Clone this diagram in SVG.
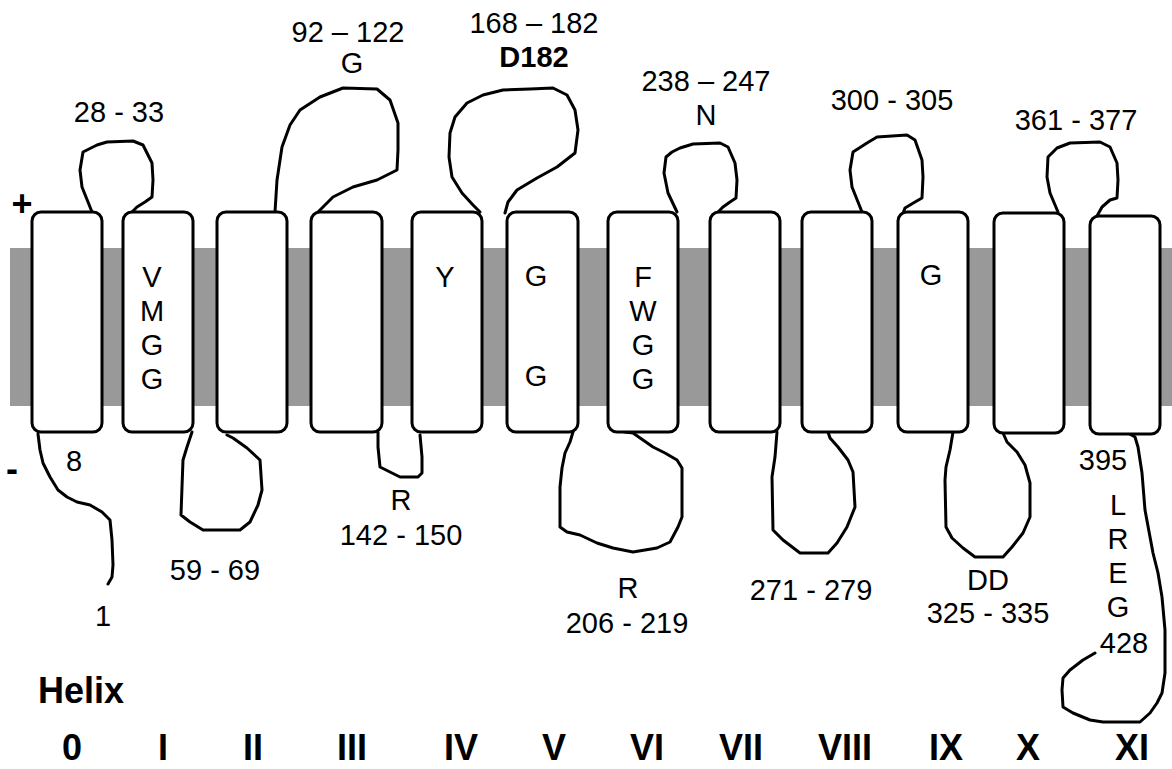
<svg xmlns="http://www.w3.org/2000/svg" width="1172" height="769" viewBox="0 0 1172 769">
<style>
.helix{fill:#fff;stroke:#000;stroke-width:3}
.loop{fill:none;stroke:#000;stroke-width:3;stroke-linejoin:round;stroke-linecap:round}
text{font-family:"Liberation Sans",Arial,sans-serif;fill:#000}
.t{font-size:29px;text-anchor:middle}
.b{font-size:29px;font-weight:bold;text-anchor:middle}
.n{font-size:36px;font-weight:bold;text-anchor:middle}
</style>
<rect id="membrane" x="10" y="248" width="1162" height="158" fill="#999999"/>
<g id="connectors">
<path class="loop" d="M38,434 L40,450 L43,463 L50,477 L58,490 L67,497 L77,502 L90,505 L102,512 L110,520 L112,540 L113,565 L112,577 L108,584"/>
<path class="loop" d="M92,212 L82,187 L80,170 L83,152 L97,145 L107,142 L133,141 L143,145 L152,163 L153,180 L152,197 L145,202 L137,207 L132,212"/>
<path class="loop" d="M192,432 L187,447 L183,460 L182,487 L181,515 L190,522 L203,530 L240,530 L250,522 L258,505 L262,490 L260,460 L247,448 L233,438 L227,435"/>
<path class="loop" d="M275,212 L277,180 L282,147 L290,125 L300,110 L320,97 L343,88 L377,89 L390,100 L398,123 L398,150 L397,170 L377,180 L353,187 L333,197 L323,207 L318,212"/>
<path class="loop" d="M378,432 L378,447 L380,467 L388,471 L400,477 L418,477 L422,473 L422,457 L420,435"/>
<path class="loop" d="M480,212 L473,205 L462,193 L452,177 L449,157 L450,133 L455,117 L467,103 L483,95 L503,90 L530,89 L553,88 L567,95 L575,110 L578,130 L575,153 L557,167 L537,178 L517,190 L508,202 L505,213"/>
<path class="loop" d="M573,432 L570,442 L565,453 L562,468 L560,487 L560,527 L567,532 L580,535 L597,543 L613,548 L633,552 L657,548 L670,542 L678,527 L682,517 L682,468 L677,460 L665,453 L653,447 L643,440 L633,433 L625,432 L610,427"/>
<path class="loop" d="M677,212 L668,193 L664,173 L666,157 L672,152 L680,148 L693,144 L720,143 L728,147 L735,163 L737,180 L736,198 L730,202 L723,207 L718,212"/>
<path class="loop" d="M777,432 L775,457 L772,477 L773,530 L783,540 L800,553 L828,553 L837,543 L847,527 L855,507 L853,472 L848,460 L838,447 L830,438 L828,432"/>
<path class="loop" d="M862,212 L852,187 L850,170 L853,152 L867,143 L877,137 L907,135 L915,140 L922,160 L923,177 L922,198 L915,202 L905,208 L902,216"/>
<path class="loop" d="M953,432 L950,450 L946,467 L945,480 L946,527 L952,538 L963,548 L975,557 L1003,557 L1012,547 L1023,533 L1030,517 L1030,483 L1025,465 L1017,452 L1007,442 L1003,433 L997,430"/>
<path class="loop" d="M1058,212 L1050,193 L1047,177 L1048,157 L1057,148 L1070,143 L1100,142 L1110,147 L1117,163 L1118,180 L1117,198 L1110,200 L1102,207 L1097,216"/>
<path class="loop" d="M1128,433 L1135,437 L1138,447 L1142,473 L1145,510 L1153,553 L1158,573 L1162,597 L1165,630 L1165,673 L1162,693 L1157,703 L1150,713 L1140,722 L1103,722 L1090,720 L1073,713 L1063,707 L1062,690 L1063,678 L1070,670 L1083,660 L1095,653"/>
</g>
<g id="helix-0"><rect class="helix" x="32" y="212" width="70" height="220" rx="9"/></g>
<g id="helix-I"><rect class="helix" x="123" y="212" width="70" height="220" rx="9"/>
<text class="t" x="152" y="287">V</text><text class="t" x="152" y="321">M</text><text class="t" x="152" y="355">G</text><text class="t" x="152" y="389">G</text></g>
<g id="helix-II"><rect class="helix" x="217" y="212" width="70" height="220" rx="9"/></g>
<g id="helix-III"><rect class="helix" x="311" y="212" width="71" height="220" rx="9"/></g>
<g id="helix-IV"><rect class="helix" x="412" y="212" width="70" height="220" rx="9"/>
<text class="t" x="445" y="287">Y</text></g>
<g id="helix-V"><rect class="helix" x="507" y="212" width="71" height="220" rx="9"/>
<text class="t" x="536" y="286">G</text><text class="t" x="536" y="386">G</text></g>
<g id="helix-VI"><rect class="helix" x="608" y="212" width="70" height="220" rx="9"/>
<text class="t" x="643" y="287">F</text><text class="t" x="643" y="321">W</text><text class="t" x="643" y="355">G</text><text class="t" x="643" y="389">G</text></g>
<g id="helix-VII"><rect class="helix" x="710" y="212" width="70" height="220" rx="9"/></g>
<g id="helix-VIII"><rect class="helix" x="802" y="212" width="70" height="220" rx="9"/></g>
<g id="helix-IX"><rect class="helix" x="898" y="212" width="70" height="220" rx="9"/>
<text class="t" x="931" y="285">G</text></g>
<g id="helix-X"><rect class="helix" x="994" y="213" width="70" height="220" rx="9"/></g>
<g id="helix-XI"><rect class="helix" x="1090" y="216" width="70" height="218" rx="9"/></g>
<g id="labels">
<text class="n" x="22" y="216">+</text>
<text class="n" x="12" y="481">-</text>
<text class="t" x="119" y="122">28 - 33</text>
<text class="t" x="348" y="42">92 – 122</text>
<text class="t" x="352" y="73">G</text>
<text class="t" x="534" y="33">168 – 182</text>
<text class="b" x="534" y="67">D182</text>
<text class="t" x="706" y="91">238 – 247</text>
<text class="t" x="706" y="125">N</text>
<text class="t" x="892" y="110">300 - 305</text>
<text class="t" x="1076" y="130">361 - 377</text>
<text class="t" x="74" y="471">8</text>
<text class="t" x="103" y="626">1</text>
<text class="t" x="215" y="580">59 - 69</text>
<text class="t" x="401" y="510">R</text>
<text class="t" x="401" y="545">142 - 150</text>
<text class="t" x="628" y="598">R</text>
<text class="t" x="627" y="633">206 - 219</text>
<text class="t" x="811" y="600">271 - 279</text>
<text class="t" x="988" y="590">DD</text>
<text class="t" x="988" y="623">325 - 335</text>
<text class="t" x="1103" y="470">395</text>
<text class="t" x="1118" y="515">L</text>
<text class="t" x="1118" y="549">R</text>
<text class="t" x="1118" y="583">E</text>
<text class="t" x="1118" y="617">G</text>
<text class="t" x="1124" y="653">428</text>
<text x="38" y="703" style="font-size:36px;font-weight:bold">Helix</text>
<text class="n" x="72" y="760">0</text>
<text class="n" x="163" y="760">I</text>
<text class="n" x="253" y="760">II</text>
<text class="n" x="352" y="760">III</text>
<text class="n" x="461" y="760">IV</text>
<text class="n" x="554" y="760">V</text>
<text class="n" x="647" y="760">VI</text>
<text class="n" x="741" y="760">VII</text>
<text class="n" x="845" y="760">VIII</text>
<text class="n" x="946" y="760">IX</text>
<text class="n" x="1028" y="760">X</text>
<text class="n" x="1132" y="760">XI</text>
</g>
</svg>
